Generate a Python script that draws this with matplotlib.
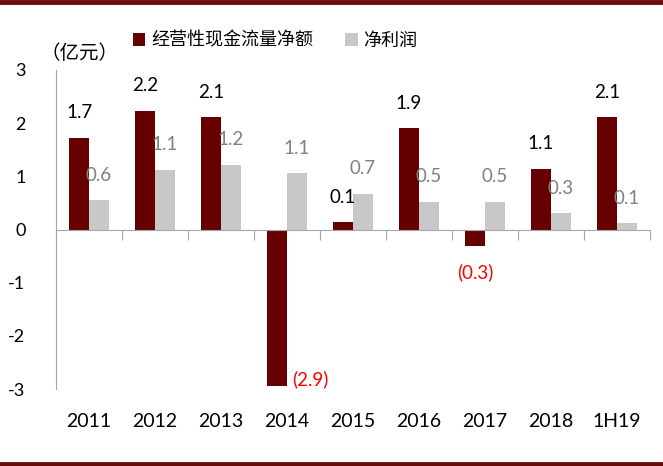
import matplotlib
matplotlib.use("Agg")
import matplotlib.pyplot as plt
from matplotlib.patches import Patch
from matplotlib.lines import Line2D
import numpy as np

plt.rcParams["font.family"] = ["Lato", "Noto Sans CJK SC", "DejaVu Sans"]

categories = ["2011", "2012", "2013", "2014", "2015", "2016", "2017", "2018", "1H19"]
cash_flow = [1.72, 2.23, 2.11, -2.95, 0.14, 1.90, -0.31, 1.14, 2.11]
net_profit = [0.55, 1.12, 1.22, 1.06, 0.67, 0.52, 0.52, 0.31, 0.12]
cash_labels = ["1.7", "2.2", "2.1", "(2.9)", "0.1", "1.9", "(0.3)", "1.1", "2.1"]
profit_labels = ["0.6", "1.1", "1.2", "1.1", "0.7", "0.5", "0.5", "0.3", "0.1"]
legend_names = ["经营性现金流量净额", "净利润"]
unit_label = "（亿元）"

DARK = "#660000"
GRAY = "#C8C8C8"
AXIS = "#A6A6A6"

fig = plt.figure(figsize=(6.63, 4.66), dpi=100)
ax = fig.add_axes([0.0845, 0.165, 0.8955, 0.685])

x = np.arange(len(categories))
w = 0.3
bars_c = ax.bar(x - w / 2, cash_flow, w, color=DARK, zorder=2)
bars_p = ax.bar(x + w / 2, net_profit, w, color=GRAY, zorder=2)

ax.set_xlim(-0.5, len(categories) - 0.5)
ax.set_ylim(-3, 3)
ax.set_yticks([-3, -2, -1, 0, 1, 2, 3])
ax.set_yticklabels(["-3", "-2", "-1", "0", "1", "2", "3"])
ax.tick_params(axis="y", length=0, pad=22, labelsize=13)

# zero line with ticks between categories
ax.spines["bottom"].set_position(("data", 0))
ax.spines["bottom"].set_color(AXIS)
ax.spines["left"].set_color(AXIS)
ax.spines["top"].set_visible(False)
ax.spines["right"].set_visible(False)
ax.set_xticks(np.arange(len(categories) + 1) - 0.5)
ax.set_xticklabels([])
ax.tick_params(axis="x", direction="out", length=7, color=AXIS)

sec = ax.secondary_xaxis("bottom")
sec.set_xticks(x)
sec.set_xticklabels(categories)
sec.tick_params(length=0, pad=17, labelsize=14)
sec.spines["bottom"].set_visible(False)

for bar, lab, val in zip(bars_c, cash_labels, cash_flow):
    cx = bar.get_x() + bar.get_width() / 2
    if val >= 0:
        ax.annotate(lab, (cx, val), xytext=(0, 18), textcoords="offset points",
                    ha="center", va="center", fontsize=13.5, color="black")
    elif val < -2:
        ax.annotate(lab, (bar.get_x() + bar.get_width(), val), xytext=(4, 5),
                    textcoords="offset points", ha="left", va="center",
                    fontsize=13.5, color="#FF0000")
    else:
        ax.annotate(lab, (cx, val), xytext=(0, -19), textcoords="offset points",
                    ha="center", va="center", fontsize=13.5, color="#FF0000")

for bar, lab, val in zip(bars_p, profit_labels, net_profit):
    cx = bar.get_x() + bar.get_width() / 2
    ax.annotate(lab, (cx, val), xytext=(0, 18), textcoords="offset points",
                ha="center", va="center", fontsize=13.5, color="#808080")

handles = [Patch(facecolor=DARK), Patch(facecolor=GRAY)]
fig.legend(handles, legend_names, loc="center", bbox_to_anchor=(0.415, 1 - 40 / 466),
           ncol=2, frameon=False, fontsize=13, handlelength=0.7, handleheight=0.7,
           handletextpad=0.3, columnspacing=1.8)

fig.text(40 / 663, 1 - 53 / 466, unit_label, fontsize=14, ha="left", va="center")

# border lines top and bottom
for yy in (1 - 2 / 466, 1 - 463.5 / 466):
    fig.add_artist(Line2D([0, 1], [yy, yy], transform=fig.transFigure,
                          color="#6B0A0A", linewidth=3.5))

fig.savefig("out.png", dpi=100)
